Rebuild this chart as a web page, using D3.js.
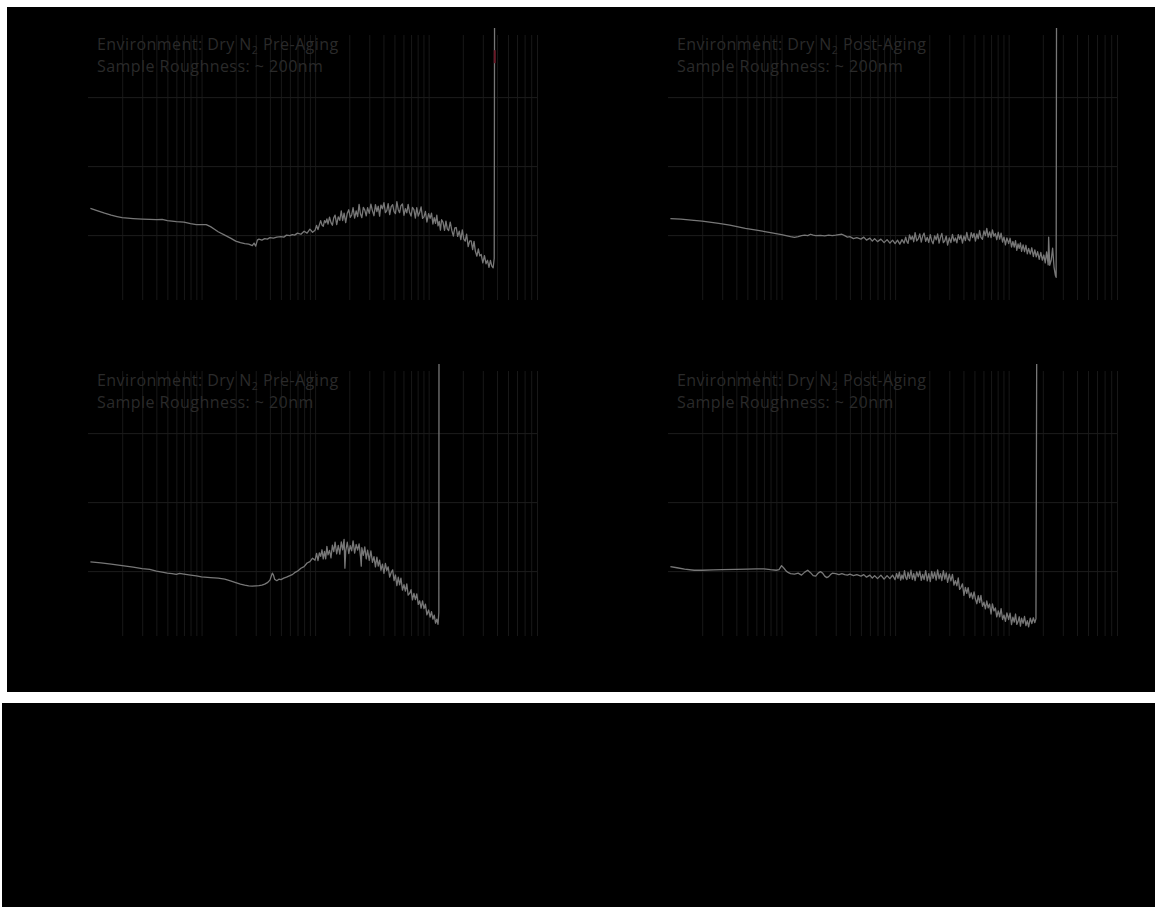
<!DOCTYPE html>
<html>
<head>
<meta charset="utf-8">
<script src="https://cdn.jsdelivr.net/npm/d3@7"></script>
<style>
  html, body { margin: 0; padding: 0; background: #ffffff; }
  svg { display: block; }
</style>
</head>
<body>
<svg id="chart" width="1155" height="907"></svg>
<script>
// Power spectral density of surface height vs spatial frequency (1/µm), four samples.
const environmentLabels = [
  ["Environment: Dry N", "2", " Pre-Aging"],
  ["Environment: Dry N", "2", " Post-Aging"],
  ["Environment: Dry N", "2", " Pre-Aging"],
  ["Environment: Dry N", "2", " Post-Aging"]
];
const roughnessLabels = [
  "Sample Roughness: ~ 200nm",
  "Sample Roughness: ~ 200nm",
  "Sample Roughness: ~ 20nm",
  "Sample Roughness: ~ 20nm"
];
const freqDomain = [0.001, 9];
const psdDomain = [Math.pow(10, 1.06), Math.pow(10, 4.9)];
const psdGridValues = [1e2, 1e3, 1e4];

// [frequency, PSD]
const roughPreAging = [
  [0.00105,244],[0.0012,226],[0.0014,208],[0.0016,195],[0.0018,186],[0.002,179],[0.0025,174],[0.003,171],
  [0.0035,169],[0.004,168],[0.0045,169],[0.005,162],[0.0055,160],[0.006,157],[0.007,154],[0.008,147],
  [0.009,142],[0.010,142],[0.011,142],[0.012,133],[0.013,122],[0.014,112],[0.016,100],[0.018,90.4],
  [0.020,81.8],[0.022,77.8],[0.024,75.2],[0.026,74],[0.028,70.3],[0.029,76.5],[0.030,69.2],[0.031,84.6],
  [0.032,87.5],[0.034,84.6],[0.036,89],[0.038,87.5],[0.040,92],[0.043,90.4],[0.046,93.5],[0.050,95],
  [0.053,93.5],[0.056,100],[0.060,98.3],[0.063,102],[0.066,100],[0.070,107],[0.075,103],[0.080,114],
  [0.085,107],[0.090,122],[0.095,110],
  [0.100,118],[0.103,138],[0.106,120],[0.109,141],[0.112,162],[0.115,140],[0.118,134],[0.121,162],
  [0.124,151],[0.127,172],[0.130,145],[0.134,182],[0.138,152],[0.142,139],[0.146,179],[0.150,195],
  [0.155,142],[0.160,184],[0.165,164],[0.170,225],[0.175,163],[0.180,208],[0.186,152],[0.192,208],
  [0.198,233],[0.204,181],[0.210,196],[0.216,250],[0.223,176],[0.230,225],[0.237,185],[0.244,279],
  [0.251,202],[0.258,179],[0.266,252],[0.274,230],[0.282,190],[0.290,250],[0.300,207],[0.310,282],
  [0.320,225],[0.330,191],[0.340,277],[0.350,220],[0.360,262],[0.370,189],[0.380,273],[0.392,241],
  [0.404,295],[0.416,212],[0.428,227],[0.440,286],[0.454,198],[0.468,259],[0.482,277],[0.496,219],
  [0.510,205],[0.525,306],[0.540,234],[0.555,212],[0.570,267],[0.588,282],[0.606,194],[0.624,242],
  [0.642,210],[0.660,279],[0.680,212],[0.700,189],[0.720,253],[0.742,234],[0.764,177],[0.786,251],
  [0.810,189],[0.834,214],[0.858,257],[0.884,175],[0.910,184],[0.937,220],[0.965,155],
  [1.00,205],[1.03,175],[1.06,208],[1.09,145],[1.12,179],[1.15,148],[1.18,195],[1.21,136],
  [1.24,158],[1.27,118],[1.30,167],[1.34,153],[1.38,117],[1.42,160],[1.46,123],[1.50,116],
  [1.55,154],[1.60,117],[1.65,96.7],[1.70,127],[1.75,129],[1.80,95.7],[1.86,114],[1.92,86],
  [1.98,119],[2.04,87.8],[2.10,81.8],[2.16,103],[2.23,68],[2.30,82.4],[2.37,82.4],[2.44,61.6],
  [2.51,81],[2.58,58.3],[2.66,49.5],[2.74,63],[2.82,50],[2.90,52.7],[3.00,39.7],[3.10,50.5],
  [3.20,38.5],[3.30,43.2],[3.40,34.1],[3.50,43.2],[3.60,35.6],[3.70,33.7],[3.78,46.3],[3.82,1e7]
];
const roughPostAging = [
  [0.00105,174],[0.0013,171],[0.0016,165],[0.002,160],[0.0028,148],[0.0035,140],[0.0048,125],[0.006,118],
  [0.008,109],[0.010,102],[0.012,95],[0.013,92.6],[0.014,95],[0.015,98.3],[0.016,100],[0.017,98.3],
  [0.018,103],[0.019,100],[0.020,98.3],[0.022,99],[0.024,97.3],[0.026,100],[0.028,98.3],[0.030,100],
  [0.032,102],[0.034,103],[0.036,98.3],[0.038,93.5],[0.040,95],[0.043,89],[0.046,92],[0.050,87.5],
  [0.053,93.5],[0.056,84.6],[0.060,90.4],[0.063,81.8],[0.066,89],[0.070,80.5],[0.075,87.5],[0.080,77.8],
  [0.085,86],[0.090,76.5],[0.095,84.6],[0.10,75.2],[0.105,84.6],[0.11,74],[0.115,86],[0.12,76.5],
  [0.124,93.8],[0.127,80.5],[0.130,76],[0.134,101],[0.138,86.3],[0.142,96.7],[0.146,80.2],[0.150,108.7],
  [0.155,82.9],[0.160,88.3],[0.165,104],[0.170,79.4],[0.175,97],[0.180,106.9],[0.186,81.5],[0.192,92.9],
  [0.198,78.3],[0.204,102],[0.210,83.2],[0.216,75],[0.223,97.7],[0.230,85.5],[0.237,104],[0.244,76.5],
  [0.251,92.9],[0.258,106],[0.266,77.8],[0.274,82.9],[0.282,97],[0.290,71.5],[0.300,91.4],[0.310,77.8],
  [0.320,102.4],[0.330,81.8],[0.340,91],[0.350,77.5],[0.360,102],[0.370,86.8],[0.380,100],[0.392,76.8],
  [0.404,97.7],[0.416,83.2],[0.428,109.4],[0.440,87.5],[0.454,82.4],[0.468,108.3],[0.482,92.3],[0.496,106.2],
  [0.510,81.8],[0.525,104],[0.540,88.7],[0.555,116.6],[0.570,92.6],[0.588,87.2],[0.606,115],[0.624,98.3],
  [0.642,125],[0.660,93.5],[0.680,111.3],[0.700,92],[0.720,119.5],[0.742,96.4],[0.764,105.6],[0.786,85.8],
  [0.810,110],[0.834,87.8],[0.858,107.2],[0.884,79.4],[0.910,93.8],[0.937,72],[0.965,91.4],
  [1.00,75.5],[1.03,90.1],[1.06,67.3],[1.09,80.8],[1.12,66.9],[1.15,82.9],[1.18,60.1],[1.21,74.5],
  [1.24,64.1],[1.27,77.2],[1.30,58],[1.34,72],[1.38,57.5],[1.42,71.3],[1.46,53.6],[1.50,64.3],
  [1.55,53],[1.60,65.6],[1.65,49],[1.70,60.9],[1.75,48.4],[1.80,57.5],[1.86,44.4],[1.92,56.2],
  [1.98,43.3],[2.04,51.5],[2.10,39.7],[2.16,57],[2.23,37.1],[2.25,93.5],[2.30,36.6],[2.37,43.3],
  [2.44,64.7],[2.51,34.5],[2.58,26.2],[2.62,24.5],[2.65,1e7]
];
const smoothPreAging = [
  [0.00105,136],[0.0013,131.5],[0.0016,126],[0.002,120],[0.0025,114],[0.003,109],[0.0035,106],[0.004,100],
  [0.0045,96.7],[0.005,93.5],[0.0055,92],[0.006,89.5],[0.0064,92.6],[0.007,90.4],[0.008,87.5],[0.009,85.2],
  [0.010,82.6],[0.012,80.5],[0.014,79.1],[0.016,76.5],[0.018,72],[0.020,68],[0.022,64.7],[0.024,62.6],
  [0.026,61],[0.028,60.5],[0.030,61],[0.032,61.6],[0.034,62.6],[0.036,64.7],[0.038,68],[0.040,74],
  [0.042,93.5],[0.043,87.5],[0.044,76.5],[0.046,72.7],[0.048,76.5],[0.050,75.2],[0.053,79.1],[0.056,81.8],
  [0.060,86],[0.063,89],[0.066,95],[0.070,100],[0.075,110],[0.080,116],[0.085,131],[0.090,137],[0.095,154],
  [0.100,144],[0.103,181],[0.106,142],[0.109,184],[0.112,164],[0.115,204],[0.118,150],[0.121,193],
  [0.124,151],[0.127,228],[0.130,172],[0.134,200],[0.138,156],[0.142,237],[0.146,192],[0.150,263],
  [0.155,178],[0.160,236],[0.165,176],[0.170,265],[0.175,204],[0.180,289],[0.183,110.5],[0.186,195],
  [0.192,262],[0.198,180],[0.204,234],[0.210,197],[0.216,274],[0.223,182],[0.230,243],[0.237,202],
  [0.244,249],[0.251,164],[0.255,118],[0.258,218],[0.266,169],[0.274,224],[0.282,151],[0.290,202],
  [0.300,143],[0.310,197],[0.320,134],[0.330,162],[0.340,115],[0.350,160],[0.360,118],[0.370,144],
  [0.380,103],[0.392,126],[0.404,92.9],[0.416,129],[0.428,101.7],[0.440,115.5],[0.454,81.8],[0.468,95.7],
  [0.482,104.5],[0.496,73],[0.510,87.8],[0.525,61.6],[0.540,81.5],[0.555,63.4],[0.570,79.1],[0.588,53.2],
  [0.606,63.7],[0.624,51.4],[0.642,65.4],[0.660,44.8],[0.680,47.5],[0.700,53.8],[0.720,38.2],[0.742,47.7],
  [0.764,38.7],[0.786,46.8],[0.810,32.9],[0.834,37.1],[0.858,29],[0.884,37.1],[0.910,28.7],[0.937,33.3],
  [0.965,23.3],[1.00,27.3],[1.03,21.6],[1.06,25.8],[1.09,20.1],[1.12,23],[1.15,17.6],[1.18,20.2],
  [1.21,17],[1.23,25.4],[1.235,1e7]
];
const smoothPostAging = [
  [0.00105,116],[0.0012,112],[0.0014,107],[0.0017,103],[0.002,103],[0.0025,104],[0.003,105],[0.004,106],
  [0.005,107],[0.006,108],[0.007,108],[0.008,105],[0.009,103],[0.0095,105],[0.010,120],[0.0105,110],
  [0.011,100],[0.0115,95],[0.012,92],[0.013,90.4],[0.014,93.5],[0.015,87.5],[0.016,96.7],[0.017,103],
  [0.018,95],[0.019,86],[0.020,84.6],[0.021,93.5],[0.022,98.3],[0.023,93.5],[0.024,84.6],[0.025,80.5],
  [0.026,83.2],[0.027,89],[0.028,93.5],[0.030,92],[0.032,89],[0.034,92],[0.036,89],[0.038,87.5],
  [0.040,90.4],[0.043,86],[0.046,89],[0.050,84.6],[0.053,89],[0.056,81.8],[0.060,87.5],[0.063,79.1],
  [0.066,86],[0.070,77.8],[0.075,87.5],[0.080,76.5],[0.085,86],[0.090,77.8],[0.095,87.5],
  [0.100,75.2],[0.103,92.3],[0.106,78.6],[0.109,96.4],[0.112,74],[0.115,87.8],[0.118,77],[0.121,101.4],
  [0.124,80.5],[0.127,75.5],[0.130,96],[0.134,78.8],[0.138,103],[0.142,75.7],[0.146,92.3],[0.150,72.7],
  [0.155,97.7],[0.160,82.4],[0.165,100],[0.170,73.7],[0.175,89.8],[0.180,75.5],[0.186,101.7],[0.192,72.3],
  [0.198,91.7],[0.204,70.3],[0.210,99],[0.216,78.6],[0.223,96.4],[0.230,74.3],[0.237,104],[0.244,77.5],
  [0.251,92],[0.258,73],[0.266,102],[0.274,76.5],[0.282,94.5],[0.290,68.7],[0.300,90.4],[0.310,72.3],
  [0.320,89.8],[0.330,62.8],[0.340,73],[0.350,61.4],[0.360,79.6],[0.370,54.3],[0.380,57.8],[0.392,65.4],
  [0.404,44.6],[0.416,58],[0.428,47.5],[0.440,57.8],[0.454,41.4],[0.468,48.6],[0.482,39.6],[0.496,49.9],
  [0.510,39.4],[0.525,33.7],[0.540,44],[0.555,35.1],[0.570,44.6],[0.588,31],[0.606,35.5],[0.624,28.3],
  [0.642,36.9],[0.660,29.3],[0.680,33.4],[0.700,23.9],[0.720,33.5],[0.742,26.5],[0.764,29.3],[0.786,21.7],
  [0.810,26.6],[0.834,21.7],[0.858,28.6],[0.884,19.9],[0.910,23.1],[0.937,18.7],[0.965,24.8],
  [1.00,19.9],[1.03,24.7],[1.06,16.8],[1.09,21.6],[1.12,18.2],[1.15,23.9],[1.18,16.9],[1.21,18.6],
  [1.24,21.8],[1.27,16],[1.30,20.8],[1.34,17.5],[1.38,22],[1.42,16.2],[1.46,19.1],[1.50,15.6],
  [1.55,20.9],[1.60,17.4],[1.65,21.1],[1.70,17.9],[1.74,20.5],[1.78,1e7]
];
// short red cursor segment on the first panel
const cursorMark = [[3.82,47900],[3.82,31000]];

const seriesList = [roughPreAging, roughPostAging, smoothPreAging, smoothPostAging];

const W = 449, H = 265;
const panels = [
  { x: 88,  y: 35 },
  { x: 668, y: 35 },
  { x: 88,  y: 371 },
  { x: 668, y: 371 }
];

const svg = d3.select("#chart");

// dark backdrop blocks
svg.append("rect").attr("x", 7).attr("y", 7).attr("width", 1148).attr("height", 685).attr("fill", "#000");
svg.append("rect").attr("x", 2).attr("y", 703).attr("width", 1153).attr("height", 204).attr("fill", "#000");

const x = d3.scaleLog().domain(freqDomain).range([0, W]);
const y = d3.scaleLog().domain(psdDomain).range([H, 0]);
const line = d3.line().x(d => x(d[0])).y(d => y(d[1]));

panels.forEach((p, i) => {
  const g = svg.append("g").attr("transform", `translate(${p.x},${p.y})`);

  // vertical grid from the log axis ticks
  const gx = g.append("g")
    .attr("transform", `translate(0,${H})`)
    .call(d3.axisBottom(x).tickValues(x.ticks().filter(t => t > freqDomain[0] * 1.001)).tickSize(-H).tickFormat(""));
  gx.select(".domain").remove();
  gx.selectAll(".tick line").attr("stroke", "#181818").attr("stroke-width", 1);

  // horizontal grid at PSD decades
  const gy = g.append("g")
    .call(d3.axisLeft(y).tickValues(psdGridValues).tickSize(-W).tickFormat(""));
  gy.select(".domain").remove();
  gy.selectAll(".tick line").attr("stroke", "#1d1d1d").attr("stroke-width", 1);

  const clipId = "clip" + i;
  g.append("clipPath").attr("id", clipId)
    .append("rect").attr("x", -4).attr("y", -7).attr("width", W + 8).attr("height", H + 7);

  g.append("path")
    .datum(seriesList[i])
    .attr("clip-path", `url(#${clipId})`)
    .attr("fill", "none")
    .attr("stroke", "#777777")
    .attr("stroke-width", 1.3)
    .attr("stroke-linejoin", "round")
    .attr("d", line);

  if (i === 0) {
    g.append("path")
      .datum(cursorMark)
      .attr("fill", "none")
      .attr("stroke", "#6a1a28")
      .attr("stroke-width", 2)
      .attr("d", line);
  }

  const label = g.append("text")
    .attr("x", 9)
    .attr("y", 15)
    .attr("font-family", "'Open Sans', 'Noto Sans', sans-serif")
    .attr("font-size", 16)
    .attr("letter-spacing", 0.45)
    .attr("fill", "#2a2a2a");
  label.append("tspan").text(environmentLabels[i][0]);
  label.append("tspan").attr("font-size", 10.5).attr("dy", 4).text(environmentLabels[i][1]);
  label.append("tspan").attr("dy", -4).text(environmentLabels[i][2]);

  g.append("text")
    .attr("x", 9)
    .attr("y", 37)
    .attr("font-family", "'Open Sans', 'Noto Sans', sans-serif")
    .attr("font-size", 16)
    .attr("letter-spacing", 0.45)
    .attr("fill", "#2a2a2a")
    .text(roughnessLabels[i]);
});
</script>
</body>
</html>
